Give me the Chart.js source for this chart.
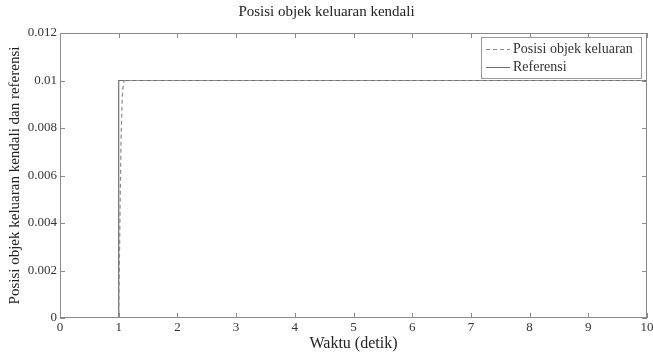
<!DOCTYPE html>
<html>
<head>
<meta charset="utf-8">
<script src="https://cdn.jsdelivr.net/npm/chart.js@4/dist/chart.umd.min.js"></script>
<style>
  html, body { margin: 0; padding: 0; background: #fff; }
  #wrap { width: 653px; height: 354px; position: relative; }
</style>
</head>
<body>
<div id="wrap"><canvas id="grafik"></canvas></div>
<script>
// Data
const waktuReferensi = [0, 1, 1, 10];
const nilaiReferensi = [0, 0, 0.01, 0.01];
const waktuPosisi = [0, 1, 1.02, 1.04, 1.06, 1.08, 1.1, 10];
const nilaiPosisi = [0, 0, 0.004, 0.0075, 0.0093, 0.0099, 0.01, 0.01];
const tickX = [0, 1, 2, 3, 4, 5, 6, 7, 8, 9, 10];
const tickY = [0, 0.002, 0.004, 0.006, 0.008, 0.01, 0.012];

const serif = '"Liberation Serif", "DejaVu Serif", serif';
const warnaTeks = '#333';
const warnaSumbu = '#8a8a8a';

function toPoints(xs, ys) {
    return xs.map((x, i) => ({ x: x, y: ys[i] }));
}

// Plugin: garis tick ke dalam dan kotak legenda gaya Matlab
const gayaMatlab = {
    id: 'gayaMatlab',
    afterDraw(chart) {
        const ctx = chart.ctx;
        const a = chart.chartArea;
        const sx = chart.scales.x;
        const sy = chart.scales.y;
        ctx.save();
        ctx.strokeStyle = warnaSumbu;
        ctx.lineWidth = 1;
        ctx.strokeRect(a.left + 0.5, a.top + 0.5, a.right - a.left - 1, a.bottom - a.top - 1);
        ctx.beginPath();
        tickX.forEach(v => {
            const px = Math.round(sx.getPixelForValue(v)) + 0.5;
            ctx.moveTo(px, a.bottom); ctx.lineTo(px, a.bottom - 5);
            ctx.moveTo(px, a.top); ctx.lineTo(px, a.top + 5);
        });
        tickY.forEach(v => {
            const py = Math.round(sy.getPixelForValue(v)) + 0.5;
            ctx.moveTo(a.left, py); ctx.lineTo(a.left + 5, py);
            ctx.moveTo(a.right, py); ctx.lineTo(a.right - 5, py);
        });
        ctx.stroke();

        // legenda
        const bx = a.right - 166, by = a.top + 4, bw = 160, bh = 41;
        ctx.fillStyle = '#fff';
        ctx.fillRect(bx, by, bw, bh);
        ctx.strokeStyle = '#999';
        ctx.strokeRect(bx + 0.5, by + 0.5, bw, bh);
        ctx.font = '14px ' + serif;
        ctx.textBaseline = 'middle';
        chart.data.datasets.forEach((ds, i) => {
            const yy = by + 12 + i * 18;
            ctx.strokeStyle = ds.borderColor;
            ctx.lineWidth = 1;
            ctx.setLineDash(ds.borderDash || []);
            ctx.beginPath();
            ctx.moveTo(bx + 5, yy + 0.5);
            ctx.lineTo(bx + 29, yy + 0.5);
            ctx.stroke();
            ctx.setLineDash([]);
            ctx.fillStyle = warnaTeks;
            ctx.fillText(ds.label, bx + 32, yy);
        });
        ctx.restore();
    }
};

new Chart(document.getElementById('grafik'), {
    type: 'line',
    data: {
        datasets: [
            {
                label: 'Posisi objek keluaran',
                data: toPoints(waktuPosisi, nilaiPosisi),
                borderColor: '#8c8c8c',
                borderDash: [4, 3],
                borderWidth: 1.2,
                pointRadius: 0,
                tension: 0
            },
            {
                label: 'Referensi',
                data: toPoints(waktuReferensi, nilaiReferensi),
                borderColor: '#6e6e6e',
                borderWidth: 1.2,
                pointRadius: 0,
                tension: 0
            }
        ]
    },
    options: {
        responsive: true,
        maintainAspectRatio: false,
        animation: false,
        layout: { padding: { top: 3, right: 0, left: 0, bottom: 0 } },
        plugins: {
            legend: { display: false },
            tooltip: { enabled: false },
            title: {
                display: true,
                text: 'Posisi objek keluaran kendali',
                color: '#222',
                font: { family: serif, size: 15, weight: 'normal', lineHeight: 1.2 },
                padding: { top: 0, bottom: 12 }
            }
        },
        scales: {
            x: {
                type: 'linear',
                min: 0,
                max: 10,
                afterBuildTicks: s => { s.ticks = tickX.map(v => ({ value: v })); },
                afterFit: s => { s.height = 36; s.paddingRight = 6; s.paddingLeft = 0; },
                grid: { display: false, drawTicks: false },
                border: { display: false },
                ticks: {
                    color: warnaTeks,
                    padding: 2,
                    maxRotation: 0,
                    font: { family: serif, size: 13 }
                },
                title: {
                    display: true,
                    text: 'Waktu (detik)',
                    color: '#222',
                    padding: { top: 0, bottom: 2 },
                    font: { family: serif, size: 16, lineHeight: 1.0 }
                }
            },
            y: {
                type: 'linear',
                min: 0,
                max: 0.012,
                afterBuildTicks: s => { s.ticks = tickY.map(v => ({ value: v })); },
                afterFit: s => { s.width = 60; },
                grid: { display: false, drawTicks: false },
                border: { display: false },
                ticks: {
                    color: warnaTeks,
                    padding: 3,
                    font: { family: serif, size: 13 },
                    callback: v => String(Number(v.toFixed(3)))
                },
                title: {
                    display: true,
                    text: 'Posisi objek keluaran kendali dan referensi',
                    color: '#222',
                    padding: { top: 6, bottom: 0 },
                    font: { family: serif, size: 15, lineHeight: 1.2 }
                }
            }
        }
    },
    plugins: [gayaMatlab]
});
</script>
</body>
</html>
